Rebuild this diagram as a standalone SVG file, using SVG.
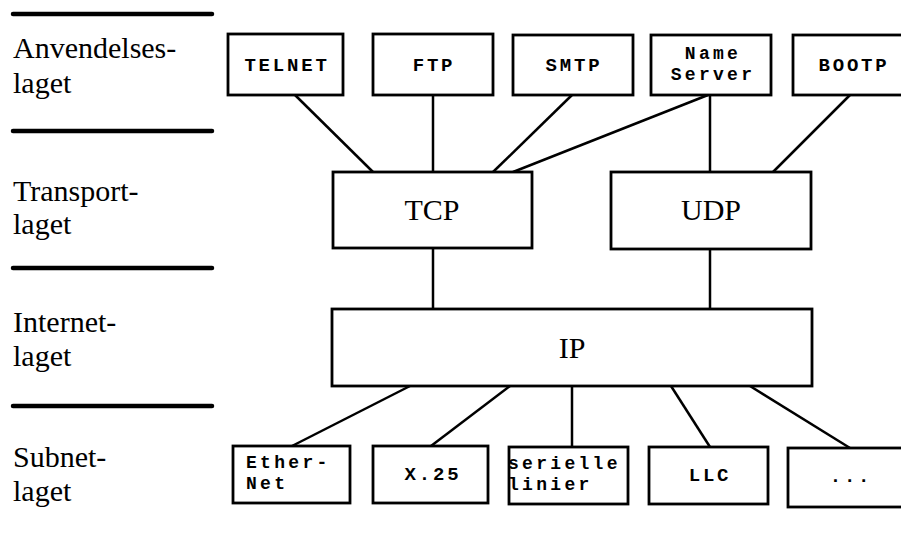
<svg xmlns="http://www.w3.org/2000/svg" width="901" height="540" viewBox="0 0 901 540">
<style>
.sep{stroke:#000;stroke-width:4.5;stroke-linecap:round}
.lbl{font-family:"Liberation Serif","Times New Roman",serif;font-size:30px;fill:#000}
.box{fill:#fff;stroke:#000;stroke-width:2.8}
.big{font-family:"Liberation Serif","Times New Roman",serif;font-size:30px;fill:#000;text-anchor:middle}
.mono{font-family:"Liberation Mono","Courier New",monospace;font-size:19px;font-weight:bold;fill:#000;letter-spacing:2.8px}
.two{font-size:18px;letter-spacing:3.3px}
.mid{text-anchor:middle}
.con line{stroke:#000;stroke-width:2.5}
</style>
<rect width="901" height="540" fill="#fff"/>
<g id="layers">
<line class="sep" x1="13" y1="14" x2="212" y2="14"/>
<line class="sep" x1="13" y1="131" x2="212" y2="131"/>
<line class="sep" x1="13" y1="268" x2="212" y2="268"/>
<line class="sep" x1="13" y1="406" x2="212" y2="406"/>
<text class="lbl" x="13" y="58">Anvendelses-</text>
<text class="lbl" x="13" y="93">laget</text>
<text class="lbl" x="13" y="201">Transport-</text>
<text class="lbl" x="13" y="234">laget</text>
<text class="lbl" x="13" y="332">Internet-</text>
<text class="lbl" x="13" y="366">laget</text>
<text class="lbl" x="13" y="467">Subnet-</text>
<text class="lbl" x="13" y="501">laget</text>
</g>
<g id="connectors" class="con">
<line x1="295" y1="95" x2="373" y2="172"/>
<line x1="433" y1="95" x2="433" y2="172"/>
<line x1="572" y1="95" x2="493" y2="172"/>
<line x1="708" y1="95" x2="513" y2="172"/>
<line x1="710" y1="95" x2="710" y2="172"/>
<line x1="850" y1="95" x2="773" y2="172"/>
<line x1="433" y1="248" x2="433" y2="309"/>
<line x1="710" y1="249" x2="710" y2="309"/>
<line x1="410" y1="386" x2="292" y2="446"/>
<line x1="510" y1="386" x2="431" y2="446"/>
<line x1="572" y1="386" x2="572" y2="447"/>
<line x1="671" y1="386" x2="710" y2="447"/>
<line x1="750" y1="386" x2="850" y2="448"/>
</g>
<g id="telnet"><rect class="box" x="228" y="34" width="115" height="61"/><text class="mono mid" x="287" y="71">TELNET</text></g>
<g id="ftp"><rect class="box" x="373" y="34" width="120" height="61"/><text class="mono mid" x="434" y="71">FTP</text></g>
<g id="smtp"><rect class="box" x="513" y="35" width="120" height="60"/><text class="mono mid" x="574" y="71">SMTP</text></g>
<g id="nameserver"><rect class="box" x="651" y="35" width="120" height="60"/><text class="mono two mid" x="713" y="59">Name</text><text class="mono two mid" x="713" y="80">Server</text></g>
<g id="bootp"><rect class="box" x="793" y="35" width="120" height="60"/><text class="mono mid" x="854" y="71">BOOTP</text></g>
<g id="tcp"><rect class="box" x="333" y="172" width="199" height="76"/><text class="big" x="432" y="220">TCP</text></g>
<g id="udp"><rect class="box" x="611" y="172" width="200" height="77"/><text class="big" x="711" y="220">UDP</text></g>
<g id="ip"><rect class="box" x="332" y="309" width="480" height="77"/><text class="big" x="572" y="358">IP</text></g>
<g id="ethernet"><rect class="box" x="233" y="446" width="117" height="57"/><text class="mono two" x="246" y="468">Ether-</text><text class="mono two" x="246" y="489">Net</text></g>
<g id="x25"><rect class="box" x="373" y="446" width="115" height="57"/><text class="mono mid" x="433" y="480">X.25</text></g>
<g id="serielle"><rect class="box" x="509" y="447" width="119" height="57"/><text class="mono two" x="508" y="469">serielle</text><text class="mono two" x="508" y="490">linier</text></g>
<g id="llc"><rect class="box" x="649" y="447" width="119" height="57"/><text class="mono mid" x="710" y="481">LLC</text></g>
<g id="more"><rect class="box" x="788" y="448" width="125" height="59"/><text class="mono mid" x="851" y="482">...</text></g>
</svg>
